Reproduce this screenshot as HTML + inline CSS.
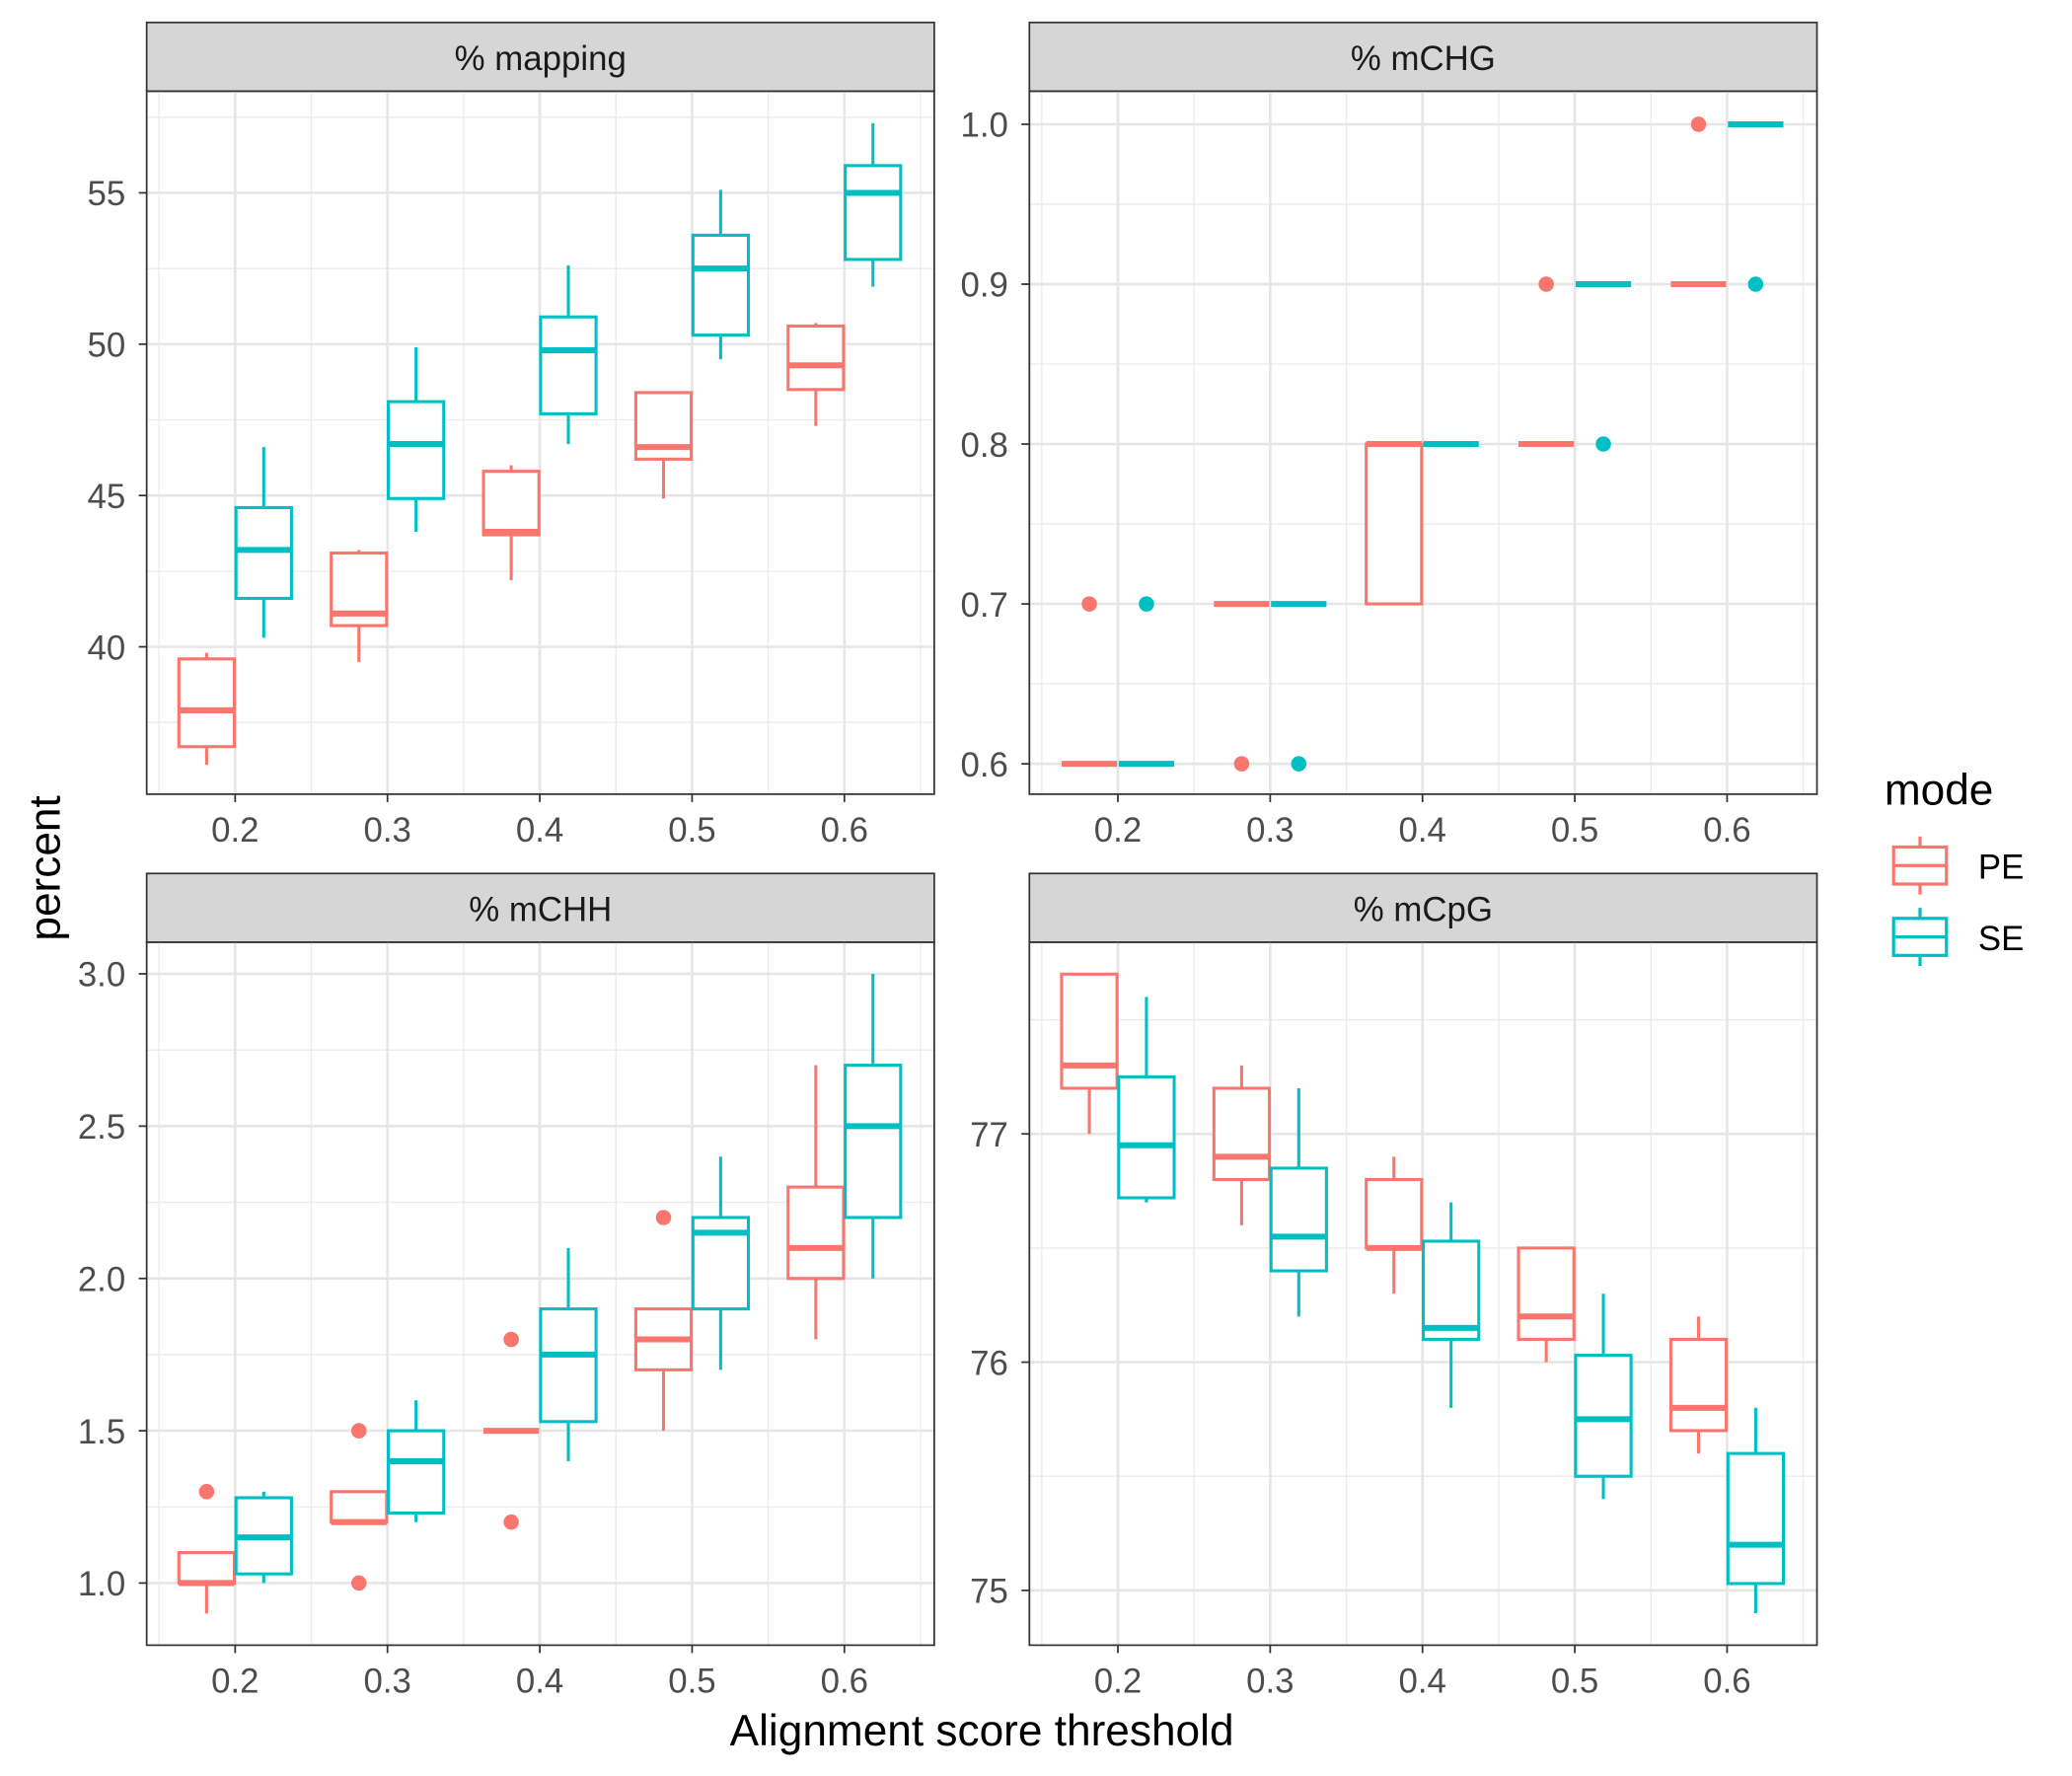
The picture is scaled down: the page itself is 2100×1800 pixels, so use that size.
<!DOCTYPE html>
<html><head><meta charset="utf-8"><style>html,body{margin:0;padding:0;background:#fff}svg{display:block}text{font-family:"Liberation Sans",sans-serif}</style></head>
<body>
<svg id="chart" width="2100" height="1800" viewBox="0 0 1568 1344" xmlns="http://www.w3.org/2000/svg">
<rect width="1568" height="1344" fill="#fff"/>
<text x="0" y="0" transform="translate(45,657) rotate(-90)" text-anchor="middle" font-size="33" fill="#000">percent</text>
<text x="743" y="1321" text-anchor="middle" font-size="33" fill="#000">Alignment score threshold</text>
<g>
<text x="1426" y="609" font-size="33" fill="#000">mode</text>
<g>
<line x1="1453" y1="633" x2="1453" y2="677" stroke="#F8766D" stroke-width="2.4"/>
<rect x="1433" y="641" width="40" height="28" fill="#fff" stroke="#F8766D" stroke-width="2.4"/>
<line x1="1433" y1="655" x2="1473" y2="655" stroke="#F8766D" stroke-width="2.4"/>
<text x="1497" y="665" font-size="26" fill="#000">PE</text></g>
<g>
<line x1="1453" y1="687" x2="1453" y2="731" stroke="#00BFC4" stroke-width="2.4"/>
<rect x="1433" y="695" width="40" height="28" fill="#fff" stroke="#00BFC4" stroke-width="2.4"/>
<line x1="1433" y1="709" x2="1473" y2="709" stroke="#00BFC4" stroke-width="2.4"/>
<text x="1497" y="719" font-size="26" fill="#000">SE</text></g>
</g>
</svg>
<script>
const thresholds = [0.2, 0.3, 0.4, 0.5, 0.6];
// each stat: [lower whisker, q1, median, q3, upper whisker]
const mappingPE = [[36.1,36.7,37.9,39.6,39.8],[39.5,40.7,41.1,43.1,43.2],[42.2,43.7,43.8,45.8,46.0],[44.9,46.2,46.6,48.4,48.4],[47.3,48.5,49.3,50.6,50.7]];
const mappingSE = [[40.3,41.6,43.2,44.6,46.6],[43.8,44.9,46.7,48.1,49.9],[46.7,47.7,49.8,50.9,52.6],[49.5,50.3,52.5,53.6,55.1],[51.9,52.8,55.0,55.9,57.3]];
const mappingOutPE = [[],[],[],[],[]];
const mappingOutSE = [[],[],[],[],[]];
const mchgPE = [[0.6,0.6,0.6,0.6,0.6],[0.7,0.7,0.7,0.7,0.7],[0.7,0.7,0.8,0.8,0.8],[0.8,0.8,0.8,0.8,0.8],[0.9,0.9,0.9,0.9,0.9]];
const mchgSE = [[0.6,0.6,0.6,0.6,0.6],[0.7,0.7,0.7,0.7,0.7],[0.8,0.8,0.8,0.8,0.8],[0.9,0.9,0.9,0.9,0.9],[1.0,1.0,1.0,1.0,1.0]];
const mchgOutPE = [[0.7],[0.6],[],[0.9],[1.0]];
const mchgOutSE = [[0.7],[0.6],[],[0.8],[0.9]];
const mchhPE = [[0.9,1.0,1.0,1.1,1.1],[1.2,1.2,1.2,1.3,1.3],[1.5,1.5,1.5,1.5,1.5],[1.5,1.7,1.8,1.9,1.9],[1.8,2.0,2.1,2.3,2.7]];
const mchhSE = [[1.0,1.03,1.15,1.28,1.3],[1.2,1.23,1.4,1.5,1.6],[1.4,1.53,1.75,1.9,2.1],[1.7,1.9,2.15,2.2,2.4],[2.0,2.2,2.5,2.7,3.0]];
const mchhOutPE = [[1.3],[1.5,1.0],[1.8,1.2],[2.2],[]];
const mchhOutSE = [[],[],[],[],[]];
const mcpgPE = [[77.0,77.2,77.3,77.7,77.7],[76.6,76.8,76.9,77.2,77.3],[76.3,76.5,76.5,76.8,76.9],[76.0,76.1,76.2,76.5,76.5],[75.6,75.7,75.8,76.1,76.2]];
const mcpgSE = [[76.7,76.72,76.95,77.25,77.6],[76.2,76.4,76.55,76.85,77.2],[75.8,76.1,76.15,76.53,76.7],[75.4,75.5,75.75,76.03,76.3],[74.9,75.03,75.2,75.6,75.8]];
const mcpgOutPE = [[],[],[],[],[]];
const mcpgOutSE = [[],[],[],[],[]];
const mappingTicks = [40,45,50,55];
const mchgTicks = [0.6,0.7,0.8,0.9,1.0];
const mchhTicks = [1.0,1.5,2.0,2.5,3.0];
const mcpgTicks = [75,76,77];
const xTickLabels = ["0.2","0.3","0.4","0.5","0.6"];

const NS = "http://www.w3.org/2000/svg";
const svg = document.getElementById('chart');
function mk(tag, attrs, parent){const e=document.createElementNS(NS,tag);for(const k in attrs)e.setAttribute(k,attrs[k]);(parent||svg).appendChild(e);return e;}
const PE="#F8766D", SE="#00BFC4";

function panel(name, title, x0, x1, yTop, yBot, xmin, xmax, ymin, ymax, ticks, fmt, pe, se, outPE, outSE){
  const g = mk('g',{});
  
  
  const sx = v => x0 + (v - xmin)/(xmax - xmin)*(x1 - x0);
  const sy = v => yBot - (v - ymin)/(ymax - ymin)*(yBot - yTop);
  const strip = mk('rect',{x:x0,y:yTop-52,width:x1-x0,height:52,fill:"#d6d6d6",stroke:"#333",'stroke-width':1.3},g);
  
  
  const st = mk('text',{x:(x0+x1)/2,y:yTop-16,'text-anchor':'middle','font-size':26,fill:'#1a1a1a'},g);
  st.textContent = title;
  
  
  const step = ticks[1]-ticks[0];
  for(let v=ticks[0]-step/2; v<=ymax; v+=step){ if(v>=ymin) mk('line',{x1:x0,x2:x1,y1:sy(v),y2:sy(v),stroke:'#ebebeb','stroke-width':1},g); }
  for(let i=0;i<=thresholds.length;i++){ const v=0.15+0.1*i; if(v>=xmin&&v<=xmax) mk('line',{x1:sx(v),x2:sx(v),y1:yTop,y2:yBot,stroke:'#ebebeb','stroke-width':1},g); }
  ticks.forEach(v=>mk('line',{x1:x0,x2:x1,y1:sy(v),y2:sy(v),stroke:'#e6e6e6','stroke-width':2},g));
  thresholds.forEach(v=>mk('line',{x1:sx(v),x2:sx(v),y1:yTop,y2:yBot,stroke:'#e6e6e6','stroke-width':2},g));
  const series = [[pe,outPE,PE,-0.01875,'pe'],[se,outSE,SE,0.01875,'se']];
  series.forEach(([data,outs,col,off,lab])=>{
    data.forEach((s,i)=>{
      const cx = sx(thresholds[i]+off), hw = 0.0182/(xmax-xmin)*(x1-x0);
      const b = mk('g',{},g);
      
      
      mk('line',{x1:cx,x2:cx,y1:sy(s[3]),y2:sy(s[4]),stroke:col,'stroke-width':2.3},b);
      mk('line',{x1:cx,x2:cx,y1:sy(s[1]),y2:sy(s[0]),stroke:col,'stroke-width':2.3},b);
      mk('rect',{x:cx-hw,y:sy(s[3]),width:2*hw,height:Math.max(0,sy(s[1])-sy(s[3])),fill:'#fff',stroke:col,'stroke-width':2.3},b);
      mk('line',{x1:cx-hw,x2:cx+hw,y1:sy(s[2]),y2:sy(s[2]),stroke:col,'stroke-width':4.5},b);
      outs[i].forEach(o=>{
        const c = mk('circle',{cx:cx,cy:sy(o),r:5.8,fill:col},b);
        
        
      });
    });
  });
  mk('rect',{x:x0,y:yTop,width:x1-x0,height:yBot-yTop,fill:'none',stroke:'#333','stroke-width':1.3},g);
  ticks.forEach(v=>{
    mk('line',{x1:x0-6,x2:x0,y1:sy(v),y2:sy(v),stroke:'#333','stroke-width':1.3},g);
    const t = mk('text',{x:x0-16,y:sy(v)+9.5,'text-anchor':'end','font-size':26,fill:'#4d4d4d'},g);
    t.textContent = fmt(v);
    
    
  });
  thresholds.forEach((v,i)=>{
    mk('line',{x1:sx(v),x2:sx(v),y1:yBot,y2:yBot+6,stroke:'#333','stroke-width':1.3},g);
    const t = mk('text',{x:sx(v),y:yBot+36,'text-anchor':'middle','font-size':26,fill:'#4d4d4d'},g);
    t.textContent = xTickLabels[i];
    
    
  });
}
const XMIN=0.1419, XMAX=0.659;
panel('mapping','% mapping',111,707,69,601,XMIN,XMAX,35.13,58.36,mappingTicks,v=>String(v),mappingPE,mappingSE,mappingOutPE,mappingOutSE);
panel('mchg','% mCHG',779,1375,69,601,XMIN,XMAX,0.581,1.0207,mchgTicks,v=>v.toFixed(1),mchgPE,mchgSE,mchgOutPE,mchgOutSE);
panel('mchh','% mCHH',111,707,713,1245,XMIN,XMAX,0.796,3.104,mchhTicks,v=>v.toFixed(1),mchhPE,mchhSE,mchhOutPE,mchhOutSE);
panel('mcpg','% mCpG',779,1375,713,1245,XMIN,XMAX,74.76,77.84,mcpgTicks,v=>String(v),mcpgPE,mcpgSE,mcpgOutPE,mcpgOutSE);
</script>
</body></html>
